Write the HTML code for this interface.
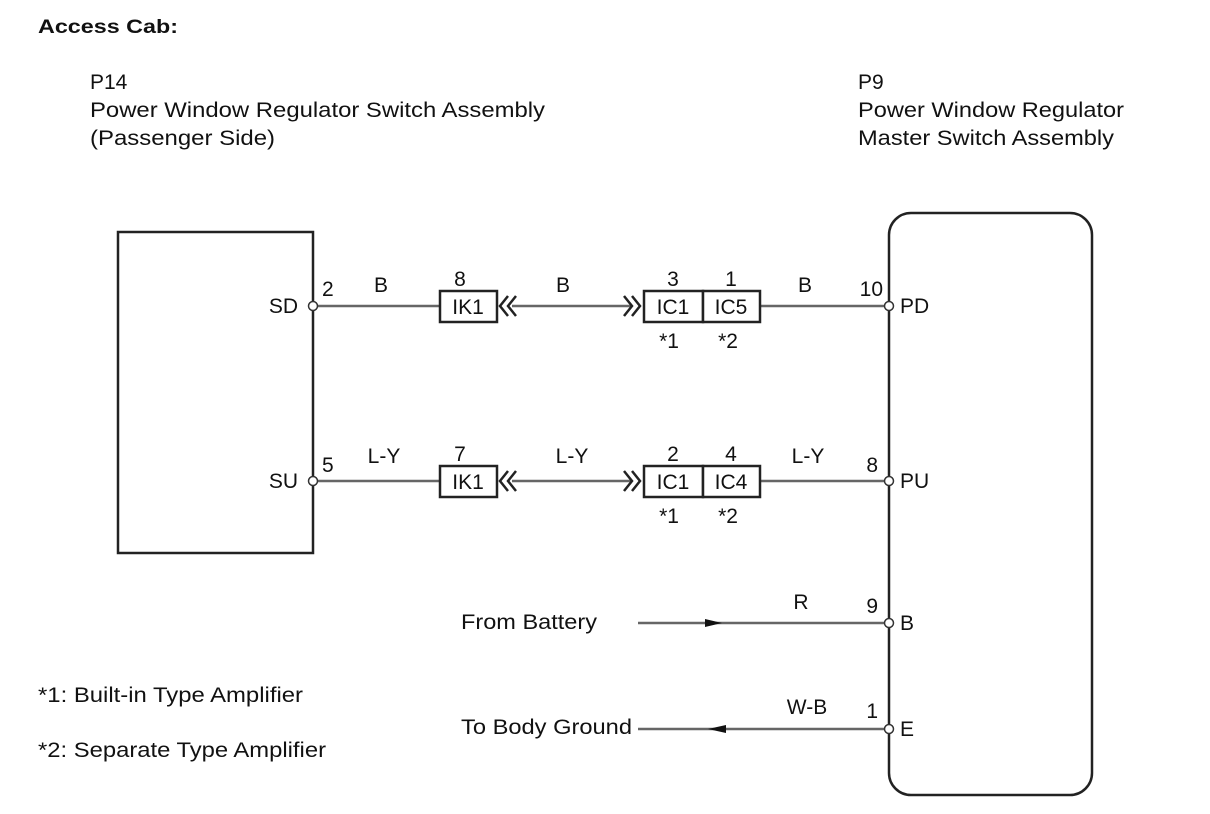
<!DOCTYPE html>
<html><head><style>body{margin:0;background:#fff}svg{display:block}</style></head>
<body>
<svg width="1210" height="814" viewBox="0 0 1210 814" xmlns="http://www.w3.org/2000/svg" font-family="Liberation Sans, Arial, sans-serif" font-size="21" fill="#111">
<text x="38" y="33" font-weight="bold" font-size="19" textLength="140" lengthAdjust="spacingAndGlyphs">Access Cab:</text>
<text x="90" y="89">P14</text>
<text x="90" y="117" textLength="455" lengthAdjust="spacingAndGlyphs">Power Window Regulator Switch Assembly</text>
<text x="90" y="145" textLength="185" lengthAdjust="spacingAndGlyphs">(Passenger Side)</text>
<text x="858" y="89">P9</text>
<text x="858" y="117" textLength="266" lengthAdjust="spacingAndGlyphs">Power Window Regulator</text>
<text x="858" y="145" textLength="256" lengthAdjust="spacingAndGlyphs">Master Switch Assembly</text>

<rect x="118" y="232" width="195" height="321" fill="none" stroke="#222" stroke-width="2.5"/>
<rect x="889" y="213" width="203" height="582" rx="22" fill="none" stroke="#222" stroke-width="2.5"/>

<g stroke="#666" stroke-width="2.5" fill="none">
<line x1="313" y1="306" x2="440" y2="306"/>
<line x1="512" y1="306" x2="632" y2="306"/>
<line x1="760" y1="306" x2="889" y2="306"/>
<line x1="313" y1="481" x2="440" y2="481"/>
<line x1="512" y1="481" x2="632" y2="481"/>
<line x1="760" y1="481" x2="889" y2="481"/>
<line x1="638" y1="623" x2="889" y2="623"/>
<line x1="638" y1="729" x2="889" y2="729"/>
</g>
<polygon points="705,619 722,623 705,627" fill="#111"/>
<polygon points="726,725 708,729 726,733" fill="#111"/>

<g stroke="#222" stroke-width="2.5" fill="none">
<polyline points="508,296 500,306 508,316"/><polyline points="516,296 508,306 516,316"/>
<polyline points="624,296 632,306 624,316"/><polyline points="632,296 640,306 632,316"/>
<polyline points="508,471 500,481 508,491"/><polyline points="516,471 508,481 516,491"/>
<polyline points="624,471 632,481 624,491"/><polyline points="632,471 640,481 632,491"/>
<rect x="440" y="291" width="57" height="31" fill="#fff"/>
<rect x="644" y="291" width="59" height="31" fill="#fff"/>
<rect x="703" y="291" width="57" height="31" fill="#fff"/>
<rect x="440" y="466" width="57" height="31" fill="#fff"/>
<rect x="644" y="466" width="59" height="31" fill="#fff"/>
<rect x="703" y="466" width="57" height="31" fill="#fff"/>
</g>
<g stroke="#333" stroke-width="1.5" fill="#fff">
<circle cx="313" cy="306" r="4.5"/><circle cx="313" cy="481" r="4.5"/>
<circle cx="889" cy="306" r="4.5"/><circle cx="889" cy="481" r="4.5"/>
<circle cx="889" cy="623" r="4.5"/><circle cx="889" cy="729" r="4.5"/>
</g>

<g text-anchor="middle">
<text x="468" y="314">IK1</text><text x="673" y="314">IC1</text><text x="731" y="314">IC5</text>
<text x="468" y="489">IK1</text><text x="673" y="489">IC1</text><text x="731" y="489">IC4</text>
<text x="460" y="286">8</text><text x="673" y="286">3</text><text x="731" y="286">1</text>
<text x="460" y="461">7</text><text x="673" y="461">2</text><text x="731" y="461">4</text>
<text x="669" y="348">*1</text><text x="728" y="348">*2</text>
<text x="669" y="523">*1</text><text x="728" y="523">*2</text>
<text x="381" y="292">B</text><text x="563" y="292">B</text><text x="805" y="292">B</text>
<text x="384" y="463">L-Y</text><text x="572" y="463">L-Y</text><text x="808" y="463">L-Y</text>
<text x="801" y="609">R</text><text x="807" y="714">W-B</text>
</g>
<g text-anchor="end">
<text x="298" y="313">SD</text><text x="298" y="488">SU</text>
<text x="883" y="296">10</text><text x="878" y="472">8</text>
<text x="878" y="613">9</text><text x="878" y="718">1</text>
</g>
<text x="322" y="296">2</text><text x="322" y="472">5</text>
<text x="900" y="313">PD</text><text x="900" y="488">PU</text>
<text x="900" y="630">B</text><text x="900" y="736">E</text>
<text x="461" y="629" textLength="136" lengthAdjust="spacingAndGlyphs">From Battery</text>
<text x="461" y="734" textLength="171" lengthAdjust="spacingAndGlyphs">To Body Ground</text>
<text x="38" y="702" textLength="265" lengthAdjust="spacingAndGlyphs">*1: Built-in Type Amplifier</text>
<text x="38" y="757" textLength="288" lengthAdjust="spacingAndGlyphs">*2: Separate Type Amplifier</text>
</svg>
</body></html>
